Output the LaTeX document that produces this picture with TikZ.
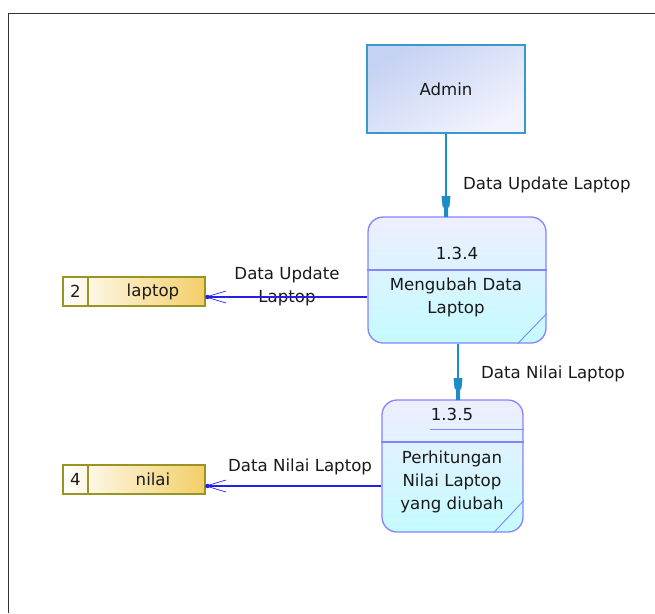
\documentclass[tikz,border=0pt]{standalone}
\usepackage{fontspec}
\setmainfont{DejaVu Sans}
\usetikzlibrary{arrows.meta,calc}
\definecolor{entline}{HTML}{3A98D0}
\definecolor{entA}{HTML}{C6D2F3}
\definecolor{entB}{HTML}{F2F3FD}
\definecolor{procline}{HTML}{8484FF}
\definecolor{procA}{HTML}{EEEEFF}
\definecolor{procB}{HTML}{C4FBFF}
\definecolor{storeline}{HTML}{9A9424}
\definecolor{storeB}{HTML}{F3CF68}
\definecolor{flowA}{HTML}{1E8CC8}
\definecolor{flowB}{HTML}{2222E6}
\tikzset{
  lbl/.style={font=\fontsize{16.6}{23}\selectfont, text=black!90, inner sep=0pt},
  entity/.style={draw=entline, line width=1.4pt, top color=entA, bottom color=entB, shading angle=30,
    minimum width=158pt, minimum height=88pt, lbl},
  proc/.style={draw=procline, line width=1.3pt, rounded corners=15pt, top color=procA, bottom color=procB,
    inner sep=0pt},
  store/.style={draw=storeline, line width=1.3pt, left color=white, right color=storeB,
    minimum width=142pt, minimum height=29pt, inner sep=0pt},
  vflow/.style={draw=flowA, line width=1.3pt},
  hflow/.style={draw=flowB, line width=1.2pt},
}
\begin{document}
\begin{tikzpicture}[x=1pt,y=-1pt]
\useasboundingbox (0,0) rectangle (655,613);
% outer frame
\draw[line width=1.6pt, black!80] (8.5,613) -- (8.5,13.5) -- (655,13.5);

% external entity
\node[entity] (admin) at (446,89) {Admin};

% process 1.3.4
\node[proc, minimum width=178pt, minimum height=126pt] (p1) at (457,280) {};
\draw[procline, line width=1.1pt] (p1.west |- 0,270) -- (p1.east |- 0,270);
\draw[procline, line width=0.9pt] ($(p1.south east)+(0,-30)$) -- ($(p1.south east)+(-29,0)$);
\node[lbl] (p1id) at (457,253) {1.3.4};
\node[lbl, align=center] (p1txt) at (456,297) {Mengubah Data\\Laptop};

% process 1.3.5
\node[proc, minimum width=141pt, minimum height=132pt] (p2) at (452.5,466) {};
\draw[procline, line width=1.1pt] (p2.west |- 0,442) -- (p2.east |- 0,442);
\draw[procline, line width=0.9pt] (430,429) -- (p2.east |- 0,429);
\draw[procline, line width=0.9pt] ($(p2.south east)+(0,-32)$) -- ($(p2.south east)+(-30,0)$);
\node[lbl] (p2id) at (452,414) {1.3.5};
\node[lbl, align=center] (p2txt) at (452,482) {Perhitungan\\Nilai Laptop\\yang diubah};

% data stores
\node[store] (s2) at (134,291.5) {};
\draw[storeline, line width=1.3pt] (88,277) -- (88,306);
\node[lbl] at (75.5,291.5) {2};
\node[lbl] at (153,291.5) {laptop};

\node[store] (s4) at (134,479.5) {};
\draw[storeline, line width=1.3pt] (88,465) -- (88,494);
\node[lbl] at (75.5,479.5) {4};
\node[lbl] at (153,479.5) {nilai};

% vertical flows
\draw[vflow] (admin.south -| 446,0) -- (p1.north -| 446,0);
\fill[flowA] (441.5,196) -- (450.5,196) -- (449.5,206) -- (448,208) -- (448,217) -- (444,217) -- (444,208) -- (442.5,206) -- cycle;
\node[lbl, anchor=west] (l1) at (463,185) {Data Update Laptop};

\draw[vflow] (p1.south -| 458,0) -- (p2.north -| 458,0);
\fill[flowA] (453.5,378) -- (462.5,378) -- (461.5,388) -- (460,390) -- (460,400) -- (456,400) -- (456,390) -- (454.5,388) -- cycle;
\node[lbl, anchor=west] (l2) at (481,374) {Data Nilai Laptop};

% horizontal flows into stores
\node[lbl, align=center] (l3) at (287,286) {Data Update\\Laptop};
\draw[hflow] (p1.west |- 0,297) -- (s2.east |- 0,297);
\fill[flowB] (207.5,297) circle (2.2pt);
\draw[flowB, line width=0.7pt] (206,297) -- (226,291) (206,297) -- (226,303) (206,297) -- (226,297);

\node[lbl, anchor=west] (l4) at (228,467) {Data Nilai Laptop};
\draw[hflow] (p2.west |- 0,486) -- (s4.east |- 0,486);
\fill[flowB] (207.5,486) circle (2.2pt);
\draw[flowB, line width=0.7pt] (206,486) -- (226,480) (206,486) -- (226,492) (206,486) -- (226,486);
\end{tikzpicture}
\end{document}
